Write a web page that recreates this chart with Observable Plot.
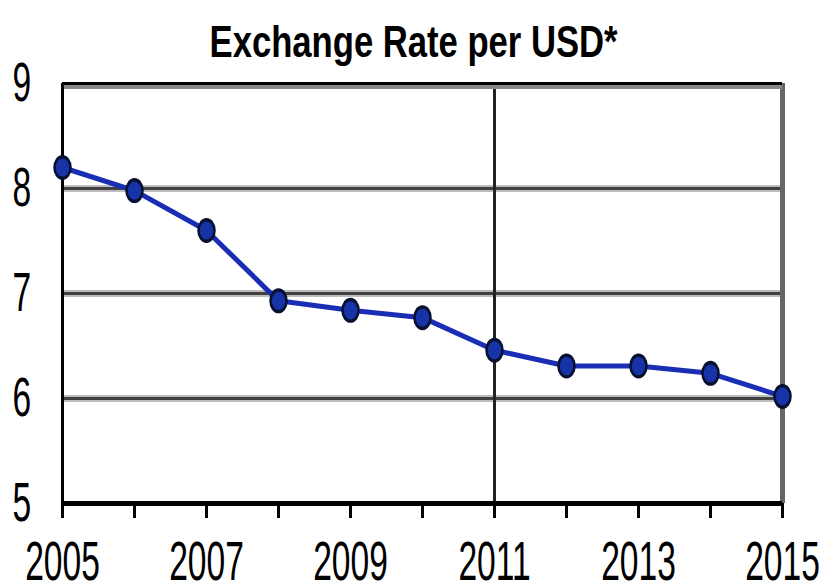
<!DOCTYPE html>
<html>
<head>
<meta charset="utf-8">
<script src="https://cdn.jsdelivr.net/npm/d3@7"></script>
<script src="https://cdn.jsdelivr.net/npm/@observablehq/plot@0.6"></script>
<style>
  html, body { margin: 0; padding: 0; background: #fff; }
  #chart svg { overflow: visible; }
  .pts circle { transform-box: fill-box; transform-origin: center; transform: scaleY(1.35); }
</style>
</head>
<body>
<div id="chart"></div>
<script>
const years = [2005, 2006, 2007, 2008, 2009, 2010, 2011, 2012, 2013, 2014, 2015];
const rates = [8.20, 7.98, 7.60, 6.93, 6.84, 6.77, 6.46, 6.31, 6.31, 6.24, 6.02];
const xTickLabels = [2005, 2007, 2009, 2011, 2013, 2015];
const yTicks = [5, 6, 7, 8, 9];
const gridValues = [6, 7, 8];
const title = "Exchange Rate per USD*";

const data = years.map((y, i) => ({year: y, rate: rates[i]}));
const font = "Liberation Sans, Arial, sans-serif";

const chart = Plot.plot({
  width: 823,
  height: 585,
  marginTop: 83,
  marginBottom: 82,
  marginLeft: 62,
  marginRight: 41,
  style: {fontFamily: font, background: "#fff", color: "#000"},
  x: {domain: [2005, 2015]},
  y: {domain: [5, 9]},
  marks: [
    Plot.ruleY(gridValues, {stroke: "#bdbdbd", strokeWidth: 7}),
    Plot.ruleY(gridValues, {stroke: "#404040", strokeWidth: 3}),
    Plot.ruleX([2011], {stroke: "#222", strokeWidth: 3}),
    Plot.ruleX([2015], {stroke: "#666", strokeWidth: 5}),
    Plot.ruleY([9], {stroke: "#888", strokeWidth: 7, dy: 2}),
    Plot.ruleY([9], {stroke: "#000", strokeWidth: 3, dy: 0}),
    Plot.ruleX([2005], {stroke: "#000", strokeWidth: 3}),
    Plot.axisX({
      ticks: years,
      tickFormat: d => xTickLabels.includes(d) ? String(d) : "",
      tickSize: 15,
      tickPadding: 22,
      fontSize: 56,
      strokeWidth: 3,
      className: "narrow",
      label: null
    }),
    Plot.ruleY([5], {stroke: "#000", strokeWidth: 5}),
    Plot.axisY({
      ticks: yTicks,
      tickFormat: d => String(d),
      tickSize: 0,
      tickPadding: 25,
      fontSize: 56,
      className: "narrow",
      label: null
    }),
    Plot.line(data, {x: "year", y: "rate", stroke: "#1a2db5", strokeWidth: 5}),
    Plot.dot(data, {x: "year", y: "rate", r: 8, fill: "#1634a8", stroke: "#081030", strokeWidth: 2.5, className: "pts"}),
    Plot.text([title], {
      frameAnchor: "top", dy: -58, dx: -9,
      text: d => d, fontSize: 45, fontWeight: "bold", fill: "#000",
      className: "titlemark"
    })
  ]
});
document.getElementById("chart").appendChild(chart);

function squeeze(selector, s) {
  chart.querySelectorAll(selector).forEach(t => {
    const b = t.getBBox();
    const cx = b.x + b.width / 2;
    const prev = t.getAttribute("transform") || "";
    t.setAttribute("transform", `${prev} translate(${cx},0) scale(${s},1) translate(${-cx},0)`);
  });
}
squeeze(".narrow text", 0.6);
squeeze(".titlemark text", 0.77);
</script>
</body>
</html>
